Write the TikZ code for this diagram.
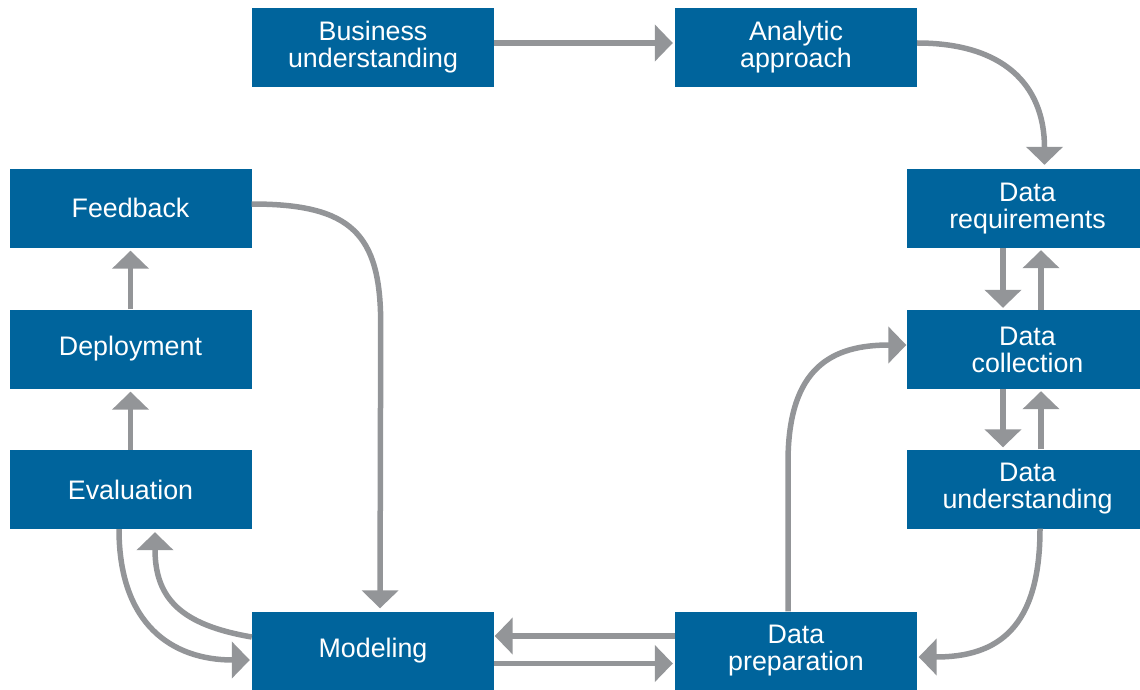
\documentclass[tikz,border=0pt]{standalone}
\usepackage{fontspec}
\setmainfont{Liberation Sans}
\usetikzlibrary{arrows.meta}
\definecolor{boxblue}{RGB}{0,100,156}
\definecolor{arrgray}{RGB}{147,149,152}
\newcommand{\shiftline}{\hspace*{8pt}}
\begin{document}
\begin{tikzpicture}[x=1pt,y=-1pt,
  stage/.style={fill=boxblue, text=white, minimum width=242pt, minimum height=79pt,
    inner sep=0pt, align=center, font=\fontsize{26.8}{27}\selectfont},
  stagecut/.style={stage, minimum width=233pt},
  flow/.style={draw=arrgray, line width=5.5pt, -{Triangle[length=18pt,width=36pt]}}]
\useasboundingbox (0,0) rectangle (1140,690);
% nodes
\node[stage] (bu) at (373,47.5) {Business\\understanding};
\node[stage] (aa) at (796,47.5) {Analytic\\approach};
\node[stagecut] (dr) at (1023.5,208.5) {\shiftline Data\\\shiftline requirements};
\node[stagecut] (dc) at (1023.5,349.5) {\shiftline Data\\\shiftline collection};
\node[stagecut] (du) at (1023.5,489) {\shiftline Data\\\shiftline understanding};
\node[stage] (dp) at (796,651) {Data\\preparation};
\node[stage] (mo) at (373,651) {Modeling};
\node[stage] (ev) at (130.5,489.5) {Evaluation};
\node[stage] (de) at (130.5,349) {Deployment};
\node[stage] (fb) at (130.5,208) {Feedback};
% connectors
\draw[flow, shorten >=2pt] ([yshift=4.5pt]bu.east) -- ([yshift=4.5pt]aa.west);
\draw[flow, shorten >=4pt] ([yshift=4.5pt]aa.east) .. controls +(85,0) and +(0,-85) .. ([xshift=21pt]dr.north);
\draw[flow, shorten >=2pt] ([xshift=-20.5pt]dr.south) -- ([xshift=-20.5pt]dc.north);
\draw[flow, shorten >=2pt] ([xshift=17.5pt]dc.north) -- ([xshift=17.5pt]dr.south);
\draw[flow, shorten >=2pt] ([xshift=-20.5pt]dc.south) -- ([xshift=-20.5pt]du.north);
\draw[flow, shorten >=2pt] ([xshift=17.5pt]du.north) -- ([xshift=17.5pt]dc.south);
\draw[flow, shorten >=1.5pt] ([xshift=16.5pt]du.south) .. controls +(0,100) and +(80,0) .. ([yshift=-6pt]dp.east);
\draw[flow, shorten >=0.5pt] ([xshift=-8pt]dp.north) -- ++(0,-149) .. controls +(0,-95) and +(-75,0) .. ([yshift=4.5pt]dc.west);
\draw[flow, shorten >=0.5pt] ([yshift=15pt]dp.west) -- ([yshift=15pt]mo.east);
\draw[flow, shorten >=2pt] ([yshift=-12.5pt]mo.east) -- ([yshift=-12.5pt]dp.west);
\draw[flow, shorten >=3pt] ([yshift=14pt]mo.west) .. controls +(-70,-12) and +(0,70) .. ([xshift=24.5pt]ev.south);
\draw[flow, shorten >=2pt] ([xshift=-11.5pt]ev.south) .. controls +(0,95) and +(-80,0) .. ([yshift=-9pt]mo.west);
\draw[flow, shorten >=3pt] (ev.north) -- (de.south);
\draw[flow, shorten >=3pt] (de.north) -- (fb.south);
\draw[flow, shorten >=3pt] ([yshift=4pt]fb.east) .. controls +(100,0) and +(0,-90) .. ++(129,120) -- ([xshift=7pt]mo.north);
\end{tikzpicture}
\end{document}
